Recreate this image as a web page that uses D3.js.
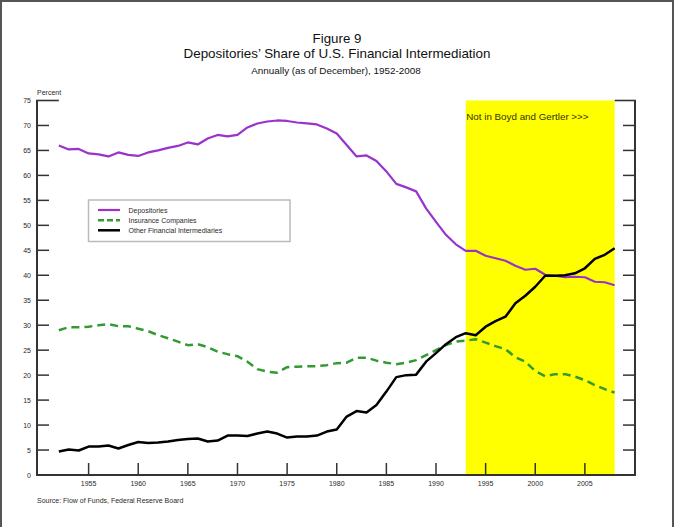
<!DOCTYPE html>
<html>
<head>
<meta charset="utf-8">
<script src="https://cdn.jsdelivr.net/npm/d3@7"></script>
<style>
  html, body { margin: 0; padding: 0; background: #fff; }
  svg { display: block; font-family: "Liberation Sans", Arial, sans-serif; }
</style>
</head>
<body>
<svg id="chart" width="675" height="527"></svg>
<script>
const years = d3.range(1952, 2009);
const depositories = [66.0, 65.2, 65.3, 64.4, 64.2, 63.8, 64.6, 64.1, 63.9, 64.6, 65.0, 65.5, 65.9, 66.6, 66.2, 67.4, 68.1, 67.8, 68.1, 69.6, 70.4, 70.8, 71.0, 70.9, 70.6, 70.4, 70.2, 69.4, 68.4, 66.1, 63.8, 64.0, 62.9, 60.8, 58.3, 57.6, 56.8, 53.4, 50.7, 48.1, 46.2, 44.9, 44.9, 43.9, 43.4, 42.9, 41.9, 41.1, 41.3, 40.1, 39.9, 39.6, 39.7, 39.6, 38.7, 38.6, 38.0];
const insurance = [29.0, 29.6, 29.6, 29.7, 30.0, 30.2, 29.8, 29.8, 29.3, 28.8, 28.0, 27.4, 26.7, 26.0, 26.2, 25.6, 24.7, 24.2, 23.8, 22.7, 21.2, 20.7, 20.5, 21.6, 21.7, 21.8, 21.8, 22.0, 22.4, 22.5, 23.5, 23.5, 22.9, 22.5, 22.2, 22.5, 23.0, 24.0, 25.0, 26.0, 26.7, 26.9, 27.2, 26.5, 25.8, 25.2, 23.6, 22.7, 20.8, 19.8, 20.2, 20.2, 19.7, 19.0, 18.0, 17.2, 16.5];
const otherFI = [4.7, 5.1, 4.9, 5.7, 5.7, 5.9, 5.3, 6.0, 6.6, 6.4, 6.5, 6.7, 7.0, 7.2, 7.3, 6.7, 6.9, 7.9, 7.9, 7.8, 8.3, 8.7, 8.3, 7.5, 7.7, 7.7, 7.9, 8.7, 9.1, 11.7, 12.8, 12.5, 14.0, 16.7, 19.6, 20.0, 20.1, 22.7, 24.4, 26.2, 27.6, 28.4, 28.0, 29.7, 30.8, 31.7, 34.4, 35.9, 37.7, 39.9, 39.9, 40.0, 40.4, 41.4, 43.3, 44.1, 45.4];
const seriesNames = ["Depositories", "Insurance Companies", "Other Financial Intermediaries"];
const yTicks = d3.range(0, 80, 5);
const xTicks = [1955, 1960, 1965, 1970, 1975, 1980, 1985, 1990, 1995, 2000, 2005];
const shadeRange = [1993, 2008];
const titleLines = ["Figure 9", "Depositories\u2019 Share of U.S. Financial Intermediation"];
const subtitle = "Annually (as of December), 1952-2008";
const yLabel = "Percent";
const shadeLabel = "Not in Boyd and Gertler >>>";
const sourceText = "Source: Flow of Funds, Federal Reserve Board";

const svg = d3.select("#chart");
const W = 675, H = 527;
const pLeft = 37, pRight = 635, pTop = 100.5, pBottom = 475;
const x = d3.scaleLinear().domain([1949.8, 2010.05]).range([pLeft, pRight]);
const y = d3.scaleLinear().domain([0, 75]).range([pBottom, pTop]);
const textColor = "#2a2a2a";
const axisColor = "#333";

// outer frame
svg.append("path")
  .attr("d", `M1,${H} L1,1 L${W - 2},1 L${W - 2},${H}`)
  .attr("fill", "none").attr("stroke", "#555").attr("stroke-width", 2);

// titles
svg.append("text").attr("x", 337).attr("y", 43).attr("text-anchor", "middle")
  .attr("font-size", 13.3).attr("fill", "#111").text(titleLines[0]);
svg.append("text").attr("x", 337).attr("y", 58).attr("text-anchor", "middle")
  .attr("font-size", 13.4).attr("fill", "#111").text(titleLines[1]);
svg.append("text").attr("x", 336).attr("y", 73.5).attr("text-anchor", "middle")
  .attr("font-size", 9.9).attr("fill", "#111").text(subtitle);

// shaded region
svg.append("rect")
  .attr("x", x(shadeRange[0])).attr("y", pTop)
  .attr("width", x(shadeRange[1]) - x(shadeRange[0])).attr("height", pBottom - pTop)
  .attr("fill", "#ffff00");
svg.append("text").attr("x", x(shadeRange[0]) + 0.5).attr("y", 119.5)
  .attr("font-size", 9.8).attr("fill", "#333300").text(shadeLabel);

// axes frame
const axisG = svg.append("g").attr("stroke", axisColor).attr("fill", "none");
axisG.append("line").attr("x1", pLeft).attr("x2", pLeft).attr("y1", pTop).attr("y2", pBottom).attr("stroke-width", 2);
axisG.append("line").attr("x1", pRight).attr("x2", pRight).attr("y1", pTop).attr("y2", pBottom).attr("stroke-width", 2);
axisG.append("line").attr("x1", pLeft - 1).attr("x2", pRight + 1).attr("y1", pBottom).attr("y2", pBottom).attr("stroke-width", 2);
axisG.append("line").attr("x1", pLeft - 1).attr("x2", x(years[0])).attr("y1", pTop).attr("y2", pTop).attr("stroke-width", 1.6);
axisG.append("line").attr("x1", x(years[years.length - 1])).attr("x2", pRight + 1).attr("y1", pTop).attr("y2", pTop).attr("stroke-width", 1.6);

// y ticks (both sides, inward)
yTicks.filter(v => v > 0 && v < 75).forEach(v => {
  axisG.append("line").attr("x1", pLeft).attr("x2", pLeft + 12).attr("y1", y(v)).attr("y2", y(v)).attr("stroke-width", 1.5);
  axisG.append("line").attr("x1", pRight - 12).attr("x2", pRight).attr("y1", y(v)).attr("y2", y(v)).attr("stroke-width", 1.5);
});
svg.append("g").selectAll("text").data(yTicks).join("text")
  .attr("x", 31).attr("y", d => y(d) + 2.5).attr("text-anchor", "end")
  .attr("font-size", 7).attr("fill", textColor).text(d => d);

// x ticks
xTicks.forEach(v => {
  axisG.append("line").attr("x1", x(v)).attr("x2", x(v)).attr("y1", pBottom).attr("y2", pBottom - 12).attr("stroke-width", 1.5);
});
svg.append("g").selectAll("text").data(xTicks).join("text")
  .attr("x", d => x(d)).attr("y", 486).attr("text-anchor", "middle")
  .attr("font-size", 7).attr("fill", textColor).text(d => d);

svg.append("text").attr("x", 37).attr("y", 94.5).attr("font-size", 7)
  .attr("fill", textColor).text(yLabel);

// lines
const line = d3.line().x((d, i) => x(years[i])).y(d => y(d)).curve(d3.curveLinear);
const styles = [
  { data: depositories, color: "#9933cc", width: 2.2, dash: null },
  { data: insurance, color: "#339933", width: 2.5, dash: "8,5" },
  { data: otherFI, color: "#000", width: 2.5, dash: null }
];
styles.forEach(s => {
  svg.append("path").datum(s.data).attr("d", line)
    .attr("fill", "none").attr("stroke", s.color).attr("stroke-width", s.width)
    .attr("stroke-linejoin", "round")
    .attr("stroke-dasharray", s.dash);
});

// legend
const lg = svg.append("g");
lg.append("rect").attr("x", 88.5).attr("y", 200).attr("width", 201.5).attr("height", 41.5)
  .attr("fill", "#fff").attr("stroke", "#bbb").attr("stroke-width", 1.5);
const rowY = [210, 220.3, 230.3];
styles.forEach((s, i) => {
  lg.append("line").attr("x1", 98).attr("x2", 120).attr("y1", rowY[i]).attr("y2", rowY[i])
    .attr("stroke", s.color).attr("stroke-width", s.width).attr("stroke-dasharray", s.dash ? "6,3" : null);
  lg.append("text").attr("x", 128.5).attr("y", rowY[i] + 2.5).attr("font-size", 7)
    .attr("fill", textColor).text(seriesNames[i]);
});

// source
svg.append("text").attr("x", 37).attr("y", 502.5).attr("font-size", 7)
  .attr("fill", textColor).text(sourceText);
</script>
</body>
</html>
